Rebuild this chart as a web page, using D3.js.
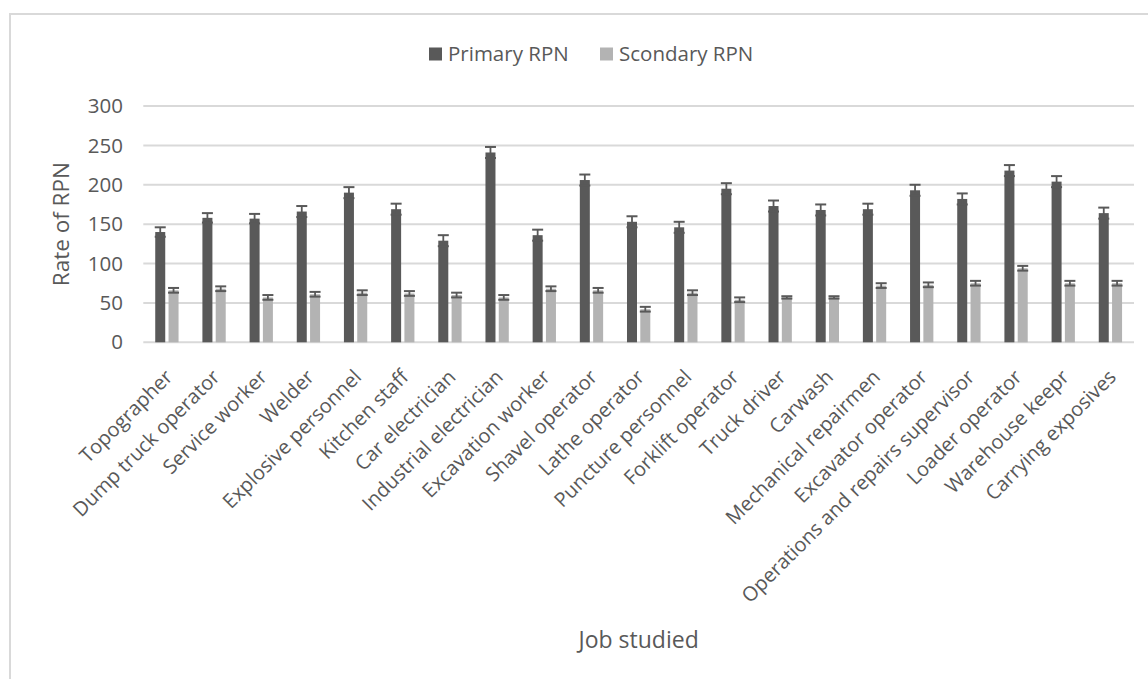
<!DOCTYPE html>
<html>
<head>
<meta charset="utf-8">
<script src="https://cdn.jsdelivr.net/npm/d3@7/dist/d3.min.js"></script>
<style>
  html, body { margin: 0; padding: 0; background: #fff; }
  svg { display: block; }
  text { font-family: "Open Sans", "Noto Sans", sans-serif; fill: #595959; }
</style>
</head>
<body>
<svg id="chart" width="1148" height="679"></svg>
<script>
const categories = ["Topographer", "Dump truck operator", "Service worker", "Welder", "Explosive personnel",
  "Kitchen staff", "Car electrician", "Industrial electrician", "Excavation worker", "Shavel operator",
  "Lathe operator", "Puncture personnel", "Forklift operator", "Truck driver", "Carwash",
  "Mechanical repairmen", "Excavator operator", "Operations and repairs supervisor", "Loader operator",
  "Warehouse keepr", "Carrying exposives"];
const seriesNames = ["Primary RPN", "Scondary RPN"];
const primaryValues = [140, 158, 157, 166, 190, 169, 129, 241, 136, 206, 153, 146, 195, 173, 168, 169, 193, 182, 218, 204, 164];
const primaryErrors = [6, 6, 6, 7, 7, 7, 7, 7, 7, 7, 7, 7, 7, 7, 7, 7, 7, 7, 7, 7, 7];
const secondaryValues = [66, 68, 57, 61, 63, 62, 60, 57, 68, 66, 42, 63, 54, 57, 57, 72, 73, 75, 94, 75, 75];
const secondaryErrors = [3, 3, 3, 3, 3, 3, 3, 3, 3, 3, 3, 3, 3, 1.5, 1.5, 3, 3, 3, 3, 3, 3];
const yTicks = [0, 50, 100, 150, 200, 250, 300];
const yTitle = "Rate of RPN";
const xTitle = "Job studied";

const colors = ["#595959", "#b3b3b3"];

const svg = d3.select("#chart");

// chart area border
svg.append("rect").attr("x", 10).attr("y", 14).attr("width", 1200).attr("height", 720)
  .attr("fill", "none").attr("stroke", "#d9d9d9").attr("stroke-width", 2);

const plotLeft = 143.3, plotRight = 1134, plotTop = 106, plotBottom = 342.3;

const x = d3.scaleBand().domain(categories).range([plotLeft, plotRight]).paddingInner(0).paddingOuter(0);
const xs = d3.scaleBand().domain(seriesNames).range([0, x.bandwidth()]).paddingInner(0.248).paddingOuter(0.897);
const y = d3.scaleLinear().domain([0, 300]).range([plotBottom, plotTop]);

// gridlines
svg.append("g").selectAll("line").data(yTicks).join("line")
  .attr("x1", plotLeft).attr("x2", plotRight)
  .attr("y1", d => y(d)).attr("y2", d => y(d))
  .attr("stroke", "#d9d9d9").attr("stroke-width", 2);

// y tick labels
svg.append("g").selectAll("text").data(yTicks).join("text")
  .attr("x", 123).attr("y", d => y(d)).attr("dy", "0.35em")
  .attr("text-anchor", "end").attr("font-size", 20.5).text(d => d);

const data = categories.map((c, i) => ({
  cat: c,
  vals: [
    { s: seriesNames[0], v: primaryValues[i], e: primaryErrors[i] },
    { s: seriesNames[1], v: secondaryValues[i], e: secondaryErrors[i] }
  ]
}));

const groups = svg.append("g").selectAll("g").data(data).join("g")
  .attr("transform", d => `translate(${x(d.cat)},0)`);

groups.selectAll("rect").data(d => d.vals).join("rect")
  .attr("x", d => xs(d.s)).attr("width", xs.bandwidth())
  .attr("y", d => y(d.v)).attr("height", d => y(0) - y(d.v))
  .attr("fill", (d, i) => colors[i]);

// error bars
const eb = groups.selectAll("g.err").data(d => d.vals).join("g").attr("class", "err");
const capW = 11;
eb.append("line")
  .attr("x1", d => xs(d.s) + xs.bandwidth() / 2).attr("x2", d => xs(d.s) + xs.bandwidth() / 2)
  .attr("y1", d => y(d.v + d.e)).attr("y2", d => y(d.v - d.e))
  .attr("stroke", "#595959").attr("stroke-width", 1.8);
eb.append("line")
  .attr("x1", d => xs(d.s) + xs.bandwidth() / 2 - capW / 2).attr("x2", d => xs(d.s) + xs.bandwidth() / 2 + capW / 2)
  .attr("y1", d => y(d.v + d.e)).attr("y2", d => y(d.v + d.e))
  .attr("stroke", "#595959").attr("stroke-width", 2);
eb.append("line")
  .attr("x1", d => xs(d.s) + xs.bandwidth() / 2 - capW / 2).attr("x2", d => xs(d.s) + xs.bandwidth() / 2 + capW / 2)
  .attr("y1", d => y(d.v - d.e)).attr("y2", d => y(d.v - d.e))
  .attr("stroke", "#595959").attr("stroke-width", 2);

// x category labels
svg.append("g").selectAll("text").data(categories).join("text")
  .attr("transform", d => `translate(${x(d) + x.bandwidth() / 2 + 2},${plotBottom + 31}) rotate(-45)`)
  .attr("text-anchor", "end").attr("dy", "0.35em").attr("font-size", 20).text(d => d);

// axis titles
svg.append("text").attr("transform", `translate(61,${(plotTop + plotBottom) / 2}) rotate(-90)`)
  .attr("text-anchor", "middle").attr("dy", "0.35em").attr("font-size", 22.5).text(yTitle);
svg.append("text").attr("x", (plotLeft + plotRight) / 2).attr("y", 640).attr("dy", "0.35em")
  .attr("text-anchor", "middle").attr("font-size", 23).text(xTitle);

// legend
const legendX = [429, 600];
const lg = svg.append("g").selectAll("g").data(seriesNames).join("g")
  .attr("transform", (d, i) => `translate(${legendX[i]},54)`);
lg.append("rect").attr("x", 0).attr("y", -6.5).attr("width", 13).attr("height", 13).attr("fill", (d, i) => colors[i]);
lg.append("text").attr("x", 19).attr("dy", "0.35em").attr("font-size", 20.5).text(d => d);
</script>
</body>
</html>
